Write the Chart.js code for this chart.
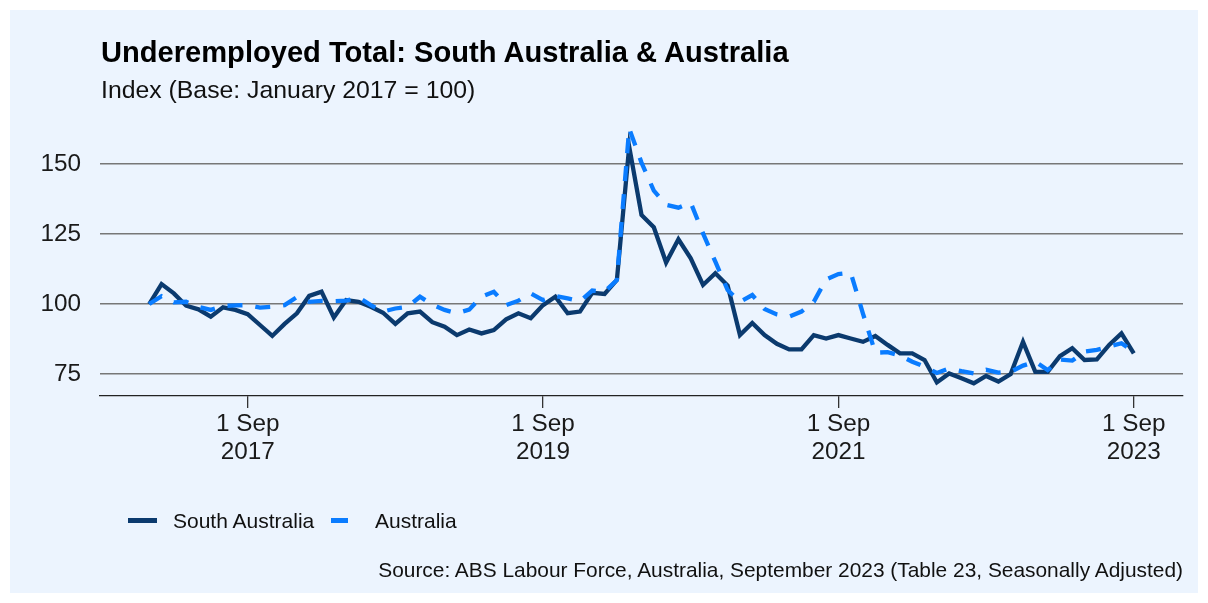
<!DOCTYPE html>
<html>
<head>
<meta charset="utf-8">
<script src="https://cdn.jsdelivr.net/npm/chart.js@4.4.1/dist/chart.umd.min.js"></script>
<style>
html,body{margin:0;padding:0;background:#ffffff;}
#wrap{position:relative;width:1208px;height:603px;overflow:hidden;font-family:"Liberation Sans",Arial,Helvetica,sans-serif;color:#000;}
#panel{position:absolute;left:10px;top:10px;width:1188px;height:583px;background:#ECF4FE;}
#c{position:absolute;left:0;top:0;}
.t{position:absolute;white-space:nowrap;line-height:1;}
#title{left:101px;top:37.6px;font-size:29.1px;font-weight:bold;color:#000;}
#subtitle{left:101px;top:78.3px;font-size:24.8px;color:#111;}
#source{right:25px;top:560.3px;font-size:20.9px;color:#111;text-align:right;}
.lg{position:absolute;height:5px;}
.lt{position:absolute;top:509.5px;font-size:21px;line-height:1;white-space:nowrap;color:#111;}
</style>
</head>
<body>
<div id="wrap">
  <div id="panel"></div>
  <canvas id="c" width="1208" height="603"></canvas>
  <div class="t" id="title">Underemployed Total: South Australia &amp; Australia</div>
  <div class="t" id="subtitle">Index (Base: January 2017 = 100)</div>
  <div class="lg" style="left:128px;top:517.5px;width:29px;background:#0B3A6E;"></div>
  <div class="lt" style="left:173px;">South Australia</div>
  <div class="lg" style="left:331px;top:517.5px;width:17px;background:#0A7CFF;"></div>
  <div class="lt" style="left:375px;">Australia</div>
  <div class="t" id="source">Source: ABS Labour Force, Australia, September 2023 (Table 23, Seasonally Adjusted)</div>
</div>
<script>
const months = [
 '2017-01','2017-02','2017-03','2017-04','2017-05','2017-06','2017-07','2017-08','2017-09','2017-10','2017-11','2017-12',
 '2018-01','2018-02','2018-03','2018-04','2018-05','2018-06','2018-07','2018-08','2018-09','2018-10','2018-11','2018-12',
 '2019-01','2019-02','2019-03','2019-04','2019-05','2019-06','2019-07','2019-08','2019-09','2019-10','2019-11','2019-12',
 '2020-01','2020-02','2020-03','2020-04','2020-05','2020-06','2020-07','2020-08','2020-09','2020-10','2020-11','2020-12',
 '2021-01','2021-02','2021-03','2021-04','2021-05','2021-06','2021-07','2021-08','2021-09','2021-10','2021-11','2021-12',
 '2022-01','2022-02','2022-03','2022-04','2022-05','2022-06','2022-07','2022-08','2022-09','2022-10','2022-11','2022-12',
 '2023-01','2023-02','2023-03','2023-04','2023-05','2023-06','2023-07','2023-08','2023-09'
];

const southAustralia = [
 100.0,107.1,103.8,99.4,98.1,95.5,98.8,97.9,96.4,92.5,88.6,92.9,
 96.7,102.9,104.4,95.2,101.4,100.8,99.0,96.9,92.9,96.7,97.3,93.5,
 91.9,88.9,90.9,89.5,90.7,94.5,96.7,94.9,99.6,102.6,96.7,97.3,
 104.0,103.6,108.6,156.2,131.8,127.4,114.8,123.1,116.3,106.8,111.0,106.6,
 88.9,93.2,88.9,85.8,83.8,83.8,88.9,87.7,88.9,87.7,86.5,88.6,
 85.4,82.4,82.4,80.0,72.0,75.2,73.5,71.7,74.3,72.3,75.0,86.5,
 75.8,75.8,81.4,84.2,80.0,80.2,85.4,89.5,82.4
];

const australia = [
 100.0,102.8,100.6,100.8,99.0,97.9,99.3,99.5,99.6,98.7,99.0,99.6,
 102.5,100.8,101.1,101.0,101.2,102.4,99.6,97.3,98.4,99.0,102.6,99.8,
 97.9,96.7,98.0,102.6,104.4,99.6,101.2,103.8,101.4,102.9,102.0,101.0,
 104.8,104.4,108.6,162.7,150.5,140.5,135.4,134.4,136.2,125.2,115.1,105.0,
 100.8,103.2,98.2,96.3,95.5,97.3,100.8,108.8,110.7,111.2,96.5,82.6,
 82.8,81.6,79.4,77.6,75.4,77.0,76.0,75.2,76.5,75.5,75.8,78.0,
 79.4,76.4,80.2,79.8,83.0,83.6,84.8,86.0,83.0
];

const xTickMonths = ['2017-09','2019-09','2021-09','2023-09'];
const xTickLabels = [['1 Sep','2017'],['1 Sep','2019'],['1 Sep','2021'],['1 Sep','2023']];
const yTicks = [75,100,125,150];

const FONT = '"Liberation Sans", Arial, Helvetica, sans-serif';

const chart = new Chart(document.getElementById('c'), {
  type: 'line',
  data: {
    datasets: [
      {
        label: 'South Australia',
        data: months.map((m, i) => ({x: i, y: southAustralia[i]})),
        borderColor: '#0B3A6E',
        backgroundColor: '#0B3A6E',
        borderWidth: 4.3,
        pointRadius: 0,
        tension: 0,
        fill: false,
        order: 1
      },
      {
        label: 'Australia',
        data: months.map((m, i) => ({x: i, y: australia[i]})),
        borderColor: '#0A7CFF',
        backgroundColor: '#0A7CFF',
        borderWidth: 4.3,
        borderDash: [15, 13],
        borderCapStyle: 'butt',
        pointRadius: 0,
        tension: 0,
        fill: false,
        order: 0
      }
    ]
  },
  options: {
    responsive: false,
    animation: false,
    events: [],
    layout: { padding: { top: 115.7, right: 25, left: 0, bottom: 137 } },
    plugins: {
      legend: { display: false },
      title: { display: false },
      tooltip: { enabled: false }
    },
    scales: {
      x: {
        type: 'linear',
        min: -4,
        max: 84,
        afterBuildTicks: (s) => { s.ticks = xTickMonths.map(m => ({ value: months.indexOf(m) })); },
        afterFit: (s) => { s.height = 70; },
        ticks: {
          autoSkip: false,
          maxRotation: 0,
          minRotation: 0,
          padding: 3,
          color: '#1a1a1a',
          font: { family: FONT, size: 24.3, lineHeight: 1.12 },
          callback: (v) => {
            const k = xTickMonths.findIndex(m => months.indexOf(m) === v);
            return k >= 0 ? xTickLabels[k] : '';
          }
        },
        grid: { drawOnChartArea: false, drawTicks: true, tickLength: 12, color: '#333333', lineWidth: 1.3 },
        border: { display: true, color: '#222222', width: 1.3 }
      },
      y: {
        min: 67.15,
        max: 167.25,
        afterBuildTicks: (s) => { s.ticks = yTicks.map(v => ({ value: v })); },
        afterFit: (s) => { s.width = 100; },
        ticks: {
          padding: 19,
          color: '#1a1a1a',
          font: { family: FONT, size: 24.3 },
          callback: (v) => String(v)
        },
        grid: { color: '#777777', lineWidth: 1.4, drawTicks: false },
        border: { display: false }
      }
    }
  }
});
</script>
</body>
</html>
